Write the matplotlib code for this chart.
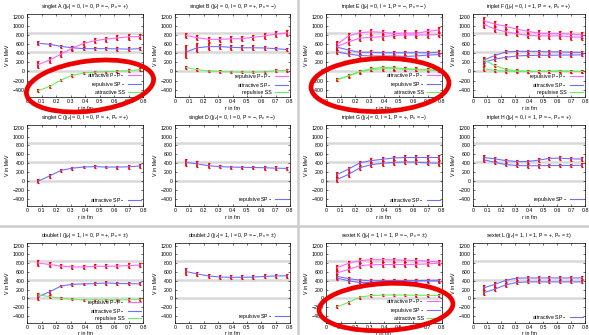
import matplotlib
matplotlib.use("Agg")
import matplotlib.pyplot as plt
from matplotlib.lines import Line2D
from matplotlib.patches import Ellipse

# ---------------- data ----------------
r = [0.078, 0.156, 0.234, 0.312, 0.39, 0.468, 0.546, 0.624, 0.702, 0.78]

titles = [
    "singlet A ($|j_z|$ = 0, I = 0, P = \u2212, P$_x$ = +)",
    "singlet B ($|j_z|$ = 0, I = 0, P = +, P$_x$ = \u2212)",
    "triplet E ($|j_z|$ = 0, I = 1, P = \u2212, P$_x$ = \u2212)",
    "triplet F ($|j_z|$ = 0, I = 1, P = +, P$_x$ = +)",
    "singlet C ($|j_z|$ = 0, I = 0, P = +, P$_x$ = +)",
    "singlet D ($|j_z|$ = 0, I = 0, P = \u2212, P$_x$ = \u2212)",
    "triplet G ($|j_z|$ = 0, I = 1, P = +, P$_x$ = \u2212)",
    "triplet H ($|j_z|$ = 0, I = 1, P = \u2212, P$_x$ = +)",
    "doublet I ($|j_z|$ = 1, I = 0, P = +, P$_x$ = \u00b1)",
    "doublet J ($|j_z|$ = 1, I = 0, P = \u2212, P$_x$ = \u00b1)",
    "sextet K ($|j_z|$ = 1, I = 1, P = \u2212, P$_x$ = \u00b1)",
    "sextet L ($|j_z|$ = 1, I = 1, P = +, P$_x$ = \u00b1)",
]

# singlet A
A_pp = [150, 250, 380, 510, 615, 675, 710, 735, 760, 765]
A_pp_err = [70, 70, 60, 55, 50, 50, 55, 55, 60, 60]
A_sp = [620, 595, 550, 520, 500, 500, 500, 495, 490, 500]
A_sp_err = [50, 40, 40, 40, 40, 40, 40, 40, 40, 40]
A_ss = [-420, -330, -190, -85, -35, -15, -5, 5, 15, 40]
A_ss_err = [40, 30, 30, 30, 25, 25, 25, 30, 30, 30]
# singlet B
B_pp = [790, 740, 705, 705, 715, 720, 750, 780, 820, 845]
B_pp_err = [60, 60, 60, 60, 60, 60, 60, 60, 60, 60]
B_sp = [430, 520, 545, 545, 530, 520, 520, 515, 500, 480]
B_sp_err = [140, 100, 70, 60, 50, 50, 50, 50, 40, 40]
B_ss = [85, 40, 10, 0, -10, -15, -15, -10, 15, 25]
B_ss_err = [40, 30, 30, 25, 25, 25, 25, 25, 30, 30]
# singlet C / D
C_sp = [0, 115, 240, 290, 315, 325, 315, 315, 320, 340]
C_sp_err = [50, 40, 35, 30, 30, 30, 30, 35, 40, 50]
D_sp = [420, 385, 345, 325, 315, 310, 305, 300, 290, 285]
D_sp_err = [80, 60, 50, 40, 35, 35, 40, 40, 40, 40]
# triplet E
E_pp1 = [600, 780, 850, 870, 860, 830, 840, 840, 880, 910]
E_pp2 = [550, 650, 730, 750, 760, 790, 800, 800, 800, 810]
E_pp_err = [70, 70, 60, 60, 60, 60, 60, 60, 60, 60]
E_sp1 = [530, 470, 420, 420, 410, 410, 410, 410, 410, 420]
E_sp2 = [430, 380, 350, 340, 340, 340, 330, 340, 360, 370]
E_sp_err = [50, 40, 40, 40, 40, 40, 40, 40, 40, 40]
E_ss1 = [-180, -90, 0, 60, 90, 80, 60, 50, 40, 30]
E_ss2 = [-180, -100, -10, 40, 60, 60, 50, 40, 30, 20]
E_ss_err = [40, 40, 40, 40, 40, 40, 40, 40, 40, 40]
# triplet F
F_pp1 = [1110, 1040, 990, 930, 880, 840, 830, 830, 820, 800]
F_pp2 = [1030, 930, 870, 830, 790, 780, 780, 780, 760, 750]
F_pp_err = [80, 70, 60, 60, 60, 60, 60, 60, 60, 60]
F_sp1 = [250, 350, 430, 440, 440, 440, 430, 430, 420, 420]
F_sp2 = [200, 270, 310, 340, 350, 355, 355, 360, 360, 365]
F_sp_err = [60, 40, 35, 35, 35, 35, 35, 35, 35, 35]
F_ss1 = [250, 130, 50, 15, 5, 0, 5, 10, 5, 0]
F_ss2 = [60, 20, 5, 0, -5, 0, 0, 0, 0, 0]
F_ss_err = [50, 40, 30, 30, 30, 30, 30, 30, 30, 30]
# triplet G / H
G_sp1 = [150, 270, 410, 460, 490, 520, 530, 530, 530, 530]
G_sp2 = [40, 150, 300, 370, 400, 420, 430, 425, 410, 400]
G_sp_err = [60, 50, 50, 50, 50, 50, 50, 50, 50, 50]
H_sp1 = [530, 500, 460, 440, 440, 470, 510, 515, 500, 495]
H_sp2 = [480, 420, 370, 350, 345, 345, 350, 350, 350, 355]
H_sp_err = [50, 40, 40, 40, 40, 40, 40, 40, 40, 40]
# doublet I / J
I_pp = [805, 770, 735, 715, 715, 730, 730, 735, 745, 760]
I_pp_err = [60, 60, 55, 55, 50, 45, 45, 50, 50, 55]
I_sp = [40, 150, 280, 320, 330, 335, 350, 340, 335, 330]
I_sp_err = [70, 40, 30, 30, 30, 30, 35, 35, 35, 35]
I_ss = [80, 40, 0, -20, -35, -30, -35, -35, -30, -30]
I_ss_err = [50, 30, 25, 25, 25, 25, 25, 25, 30, 30]
J_sp = [610, 555, 510, 485, 480, 480, 485, 500, 510, 515]
J_sp_err = [70, 50, 45, 45, 45, 45, 45, 45, 45, 45]
# sextet K / L
K_pp1 = [700, 800, 860, 880, 880, 875, 870, 860, 845, 830]
K_pp2 = [580, 660, 745, 765, 770, 770, 770, 775, 785, 800]
K_pp_err = [70, 60, 50, 50, 50, 50, 50, 50, 50, 50]
K_sp1 = [500, 450, 415, 400, 405, 405, 405, 405, 410, 415]
K_sp2 = [460, 400, 360, 360, 380, 395, 395, 395, 395, 395]
K_sp_err = [50, 40, 35, 35, 35, 35, 35, 35, 35, 35]
K_ss = [-190, -90, 30, 65, 75, 75, 75, 70, 70, 65]
K_ss_err = [40, 40, 35, 30, 30, 30, 30, 30, 30, 30]
L_sp1 = [240, 320, 410, 460, 465, 465, 465, 465, 465, 465]
L_sp2 = [130, 210, 310, 360, 375, 375, 375, 375, 375, 375]
L_sp_err = [60, 50, 40, 35, 35, 35, 35, 35, 35, 35]

ref_levels = [850, 425, 0]
yticks = [-400, -200, 0, 200, 400, 600, 800, 1000, 1200]
xticks = [0, 0.1, 0.2, 0.3, 0.4, 0.5, 0.6, 0.7, 0.8]
xticklabels = ["0", "0.1", "0.2", "0.3", "0.4", "0.5", "0.6", "0.7", "0.8"]

PP = "#ff66ff"
SP = "#6f6fff"
SS = "#66ee66"

lab_pp_a = "attractive P$_-$P$_-$"
lab_pp_r = "repulsive P$_-$P$_-$"
lab_sp_a = "attractive SP$_-$"
lab_sp_r = "repulsive SP$_-$"
lab_ss_a = "attractive SS"
lab_ss_r = "repulsive SS"

panels = [
    ([(A_pp, A_pp_err, PP), (A_sp, A_sp_err, SP), (A_ss, A_ss_err, SS)],
     [(lab_pp_a, PP), (lab_sp_r, SP), (lab_ss_a, SS)]),
    ([(B_pp, B_pp_err, PP), (B_sp, B_sp_err, SP), (B_ss, B_ss_err, SS)],
     [(lab_pp_r, PP), (lab_sp_a, SP), (lab_ss_r, SS)]),
    ([(E_pp1, E_pp_err, PP), (E_pp2, E_pp_err, PP), (E_sp1, E_sp_err, SP),
      (E_sp2, E_sp_err, SP), (E_ss1, E_ss_err, SS), (E_ss2, E_ss_err, SS)],
     [(lab_pp_a, PP), (lab_sp_r, SP), (lab_ss_a, SS)]),
    ([(F_pp1, F_pp_err, PP), (F_pp2, F_pp_err, PP), (F_sp1, F_sp_err, SP),
      (F_sp2, F_sp_err, SP), (F_ss1, F_ss_err, SS), (F_ss2, F_ss_err, SS)],
     [(lab_pp_r, PP), (lab_sp_a, SP), (lab_ss_r, SS)]),
    ([(C_sp, C_sp_err, SP)], [(lab_sp_a, SP)]),
    ([(D_sp, D_sp_err, SP)], [(lab_sp_r, SP)]),
    ([(G_sp1, G_sp_err, SP), (G_sp2, G_sp_err, SP)], [(lab_sp_a, SP)]),
    ([(H_sp1, H_sp_err, SP), (H_sp2, H_sp_err, SP)], [(lab_sp_r, SP)]),
    ([(I_pp, I_pp_err, PP), (I_sp, I_sp_err, SP), (I_ss, I_ss_err, SS)],
     [(lab_pp_r, PP), (lab_sp_a, SP), (lab_ss_r, SS)]),
    ([(J_sp, J_sp_err, SP)], [(lab_sp_r, SP)]),
    ([(K_pp1, K_pp_err, PP), (K_pp2, K_pp_err, PP), (K_sp1, K_sp_err, SP),
      (K_sp2, K_sp_err, SP), (K_ss, K_ss_err, SS)],
     [(lab_pp_a, PP), (lab_sp_r, SP), (lab_ss_a, SS)]),
    ([(L_sp1, L_sp_err, SP), (L_sp2, L_sp_err, SP)], [(lab_sp_a, SP)]),
]

# ---------------- layout ----------------
plt.rcParams["font.family"] = ["Liberation Sans", "DejaVu Sans"]
plt.rcParams["mathtext.fontset"] = "custom"
plt.rcParams["mathtext.rm"] = "Liberation Sans"
plt.rcParams["mathtext.it"] = "Liberation Sans:italic"

W, H = 589, 335
fig = plt.figure(figsize=(W / 100, H / 100), dpi=100)
fig.patch.set_facecolor("white")

col_x = [(27, 143), (175, 290), (326, 442), (473, 585)]
row_y = [(14, 97), (125, 206), (243, 323)]

FS = 3.8
for idx, (series, legend) in enumerate(panels):
    row, col = divmod(idx, 4)
    x0, x1 = col_x[col]
    y0, y1 = row_y[row]
    ax = fig.add_axes([x0 / W, 1 - y1 / H, (x1 - x0) / W, (y1 - y0) / H])
    for lv in ref_levels:
        ax.axhline(lv, color="#d9d9d9", lw=1.8, zorder=0)
    for vals, errs, c in series:
        ax.errorbar(r, vals, yerr=errs, color=c, lw=0.8, ecolor="#ff0000",
                    elinewidth=1.3, capsize=1.0, capthick=0.8, zorder=3)
    ax.set_xlim(0, 0.8)
    ax.set_ylim(-560, 1260)
    ax.set_xticks(xticks)
    ax.set_xticklabels(xticklabels)
    ax.set_yticks(yticks)
    ax.tick_params(direction="in", length=1.5, width=0.4, labelsize=FS, pad=1.5,
                   top=True, right=True)
    for sp in ax.spines.values():
        sp.set_linewidth(0.5)
    ax.set_title(titles[idx], fontsize=FS, pad=4)
    ax.set_xlabel("r in fm", fontsize=FS, labelpad=0.8 if row == 2 else 1.5)
    ax.set_ylabel("V in MeV", fontsize=FS, labelpad=2)
    handles = [Line2D([], [], color=c, lw=0.8) for _, c in legend]
    labels = [l for l, _ in legend]
    ax.legend(handles, labels, loc="lower right", frameon=False, fontsize=FS,
              markerfirst=False, handlelength=2.4, borderaxespad=0.25,
              borderpad=0.2, labelspacing=0.15, handletextpad=0.6)

# ---------------- overlay: separators and hand-drawn marks ----------------
ov = fig.add_axes([0, 0, 1, 1], zorder=10)
ov.set_xlim(0, W)
ov.set_ylim(H, 0)
ov.axis("off")
ov.patch.set_alpha(0)
ov.plot([298, 298], [0, H], color="#cccccc", lw=1.8)
ov.plot([0, W], [226, 226], color="#cccccc", lw=1.8)

for (cx, cy, w, h, ang) in [(90, 86, 128, 50, -7), (380, 85, 138, 53, -2),
                            (386, 307, 134, 47, -3)]:
    ov.add_patch(Ellipse((cx, cy), w, h, angle=ang, fill=False,
                         edgecolor="#ee0000", lw=3.4))

fig.savefig("out.png", dpi=100, facecolor="white")
